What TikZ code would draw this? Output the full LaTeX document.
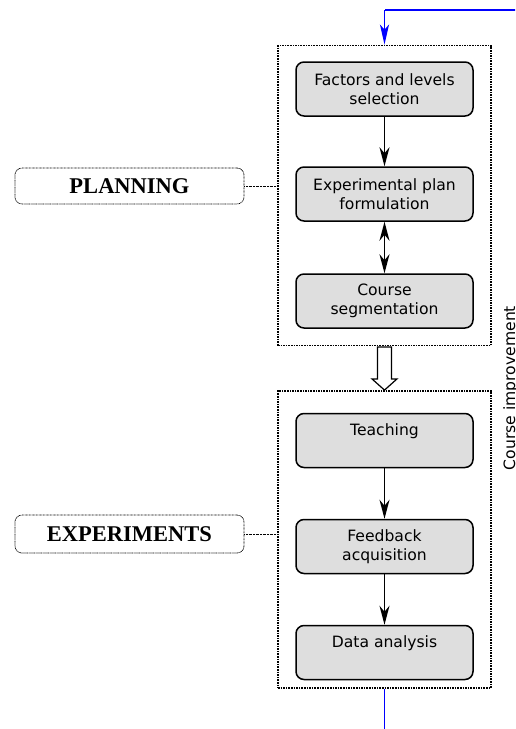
\documentclass[tikz,border=0pt]{standalone}
\usepackage{fontspec}
\newfontfamily\boxfont{DejaVu Sans}
\newfontfamily\labelfont{Liberation Serif}
\usetikzlibrary{arrows.meta,calc}
\definecolor{boxgray}{RGB}{222,222,222}
\definecolor{loopblue}{RGB}{0,0,255}
\begin{document}
\begin{tikzpicture}[x=1pt,y=-1pt,
  stepbox/.style={draw=black, line width=1.5pt, fill=boxgray, rounded corners=8pt,
    minimum width=177pt, minimum height=54pt, inner sep=0pt, align=center,
    font=\boxfont\fontsize{15.6}{19.3}\selectfont},
  container/.style={draw=black, line width=1.8pt, dash pattern=on 1.6pt off 1pt,
    minimum width=213pt, inner sep=0pt},
  phaselabel/.style={draw=black, line width=0.7pt, dash pattern=on 0.8pt off 0.6pt,
    rounded corners=7pt, minimum width=229pt, inner sep=0pt,
    font=\labelfont\bfseries\fontsize{22.5}{24}\selectfont},
  link/.style={draw=black, line width=0.7pt, dash pattern=on 0.8pt off 0.6pt},
  flow/.style={draw=black, line width=1.6pt, -{Stealth[length=19pt, width=10pt, inset=6pt]}},
  dflow/.style={draw=black, line width=1.6pt, {Stealth[length=19pt, width=10pt, inset=6pt]}-{Stealth[length=19pt, width=10pt, inset=6pt]}},
  loop/.style={draw=loopblue, line width=1.8pt},
  hollow/.style={draw=black, line width=1.2pt, fill=white}
]
\clip (0,0) rectangle (515,729);

% containers
\node[container, minimum height=300pt] (plan) at (384.5,195.5) {};
\node[container, minimum height=297pt] (exp) at (384.5,539.5) {};

% step boxes
\node[stepbox] (fac) at (384.5,89) {Factors and levels\\selection};
\node[stepbox] (epf) at (384.5,194) {Experimental plan\\formulation};
\node[stepbox] (seg) at (384.5,301) {Course\\segmentation};
\node[stepbox] (tea) at (384.5,440.5) {Teaching\\\phantom{g}};
\node[stepbox] (fba) at (384.5,546.5) {Feedback\\acquisition};
\node[stepbox] (dan) at (384.5,652.5) {Data analysis\\\phantom{g}};

% arrows between steps
\draw[flow] (fac) -- (epf);
\draw[dflow] (epf) -- (seg);
\draw[flow] (tea) -- (fba);
\draw[flow] (fba) -- (dan);

% hollow arrow between phases
\coordinate (ha) at (plan.south);
\draw[hollow] ($(ha)+(-7,0.5)$) -- ++(0,32) -- ++(-5.5,0) -- (exp.north) -- ($(ha)+(12.5,32.5)$) -- ++(-5.5,0) -- ($(ha)+(7,0.5)$) -- cycle;

% phase labels
\node[phaselabel, minimum height=36pt] (lplan) at (129.5,186) {PLANNING};
\node[phaselabel, minimum height=38pt] (lexp) at (129.5,534) {EXPERIMENTS};
\draw[link] (lplan.east) -- (lplan.east -| plan.west);
\draw[link] (lexp.east) -- (lexp.east -| exp.west);

% feedback loop
\coordinate (lb) at (384.5,745);
\coordinate (rb) at (532,745);
\coordinate (rt) at (532,10);
\coordinate (lt) at (384.5,10);
\draw[loop] (exp.south) -- (lb) -- (rb) -- (rt) -- (lt);
\draw[loop, -{Stealth[length=20pt, width=9pt, inset=5pt]}] (lt) -- (plan.north);
\node[rotate=90, anchor=base, inner sep=0pt, font=\boxfont\fontsize{15.6}{18}\selectfont] (ci) at (515,388) {Course improvement};
\end{tikzpicture}
\end{document}
